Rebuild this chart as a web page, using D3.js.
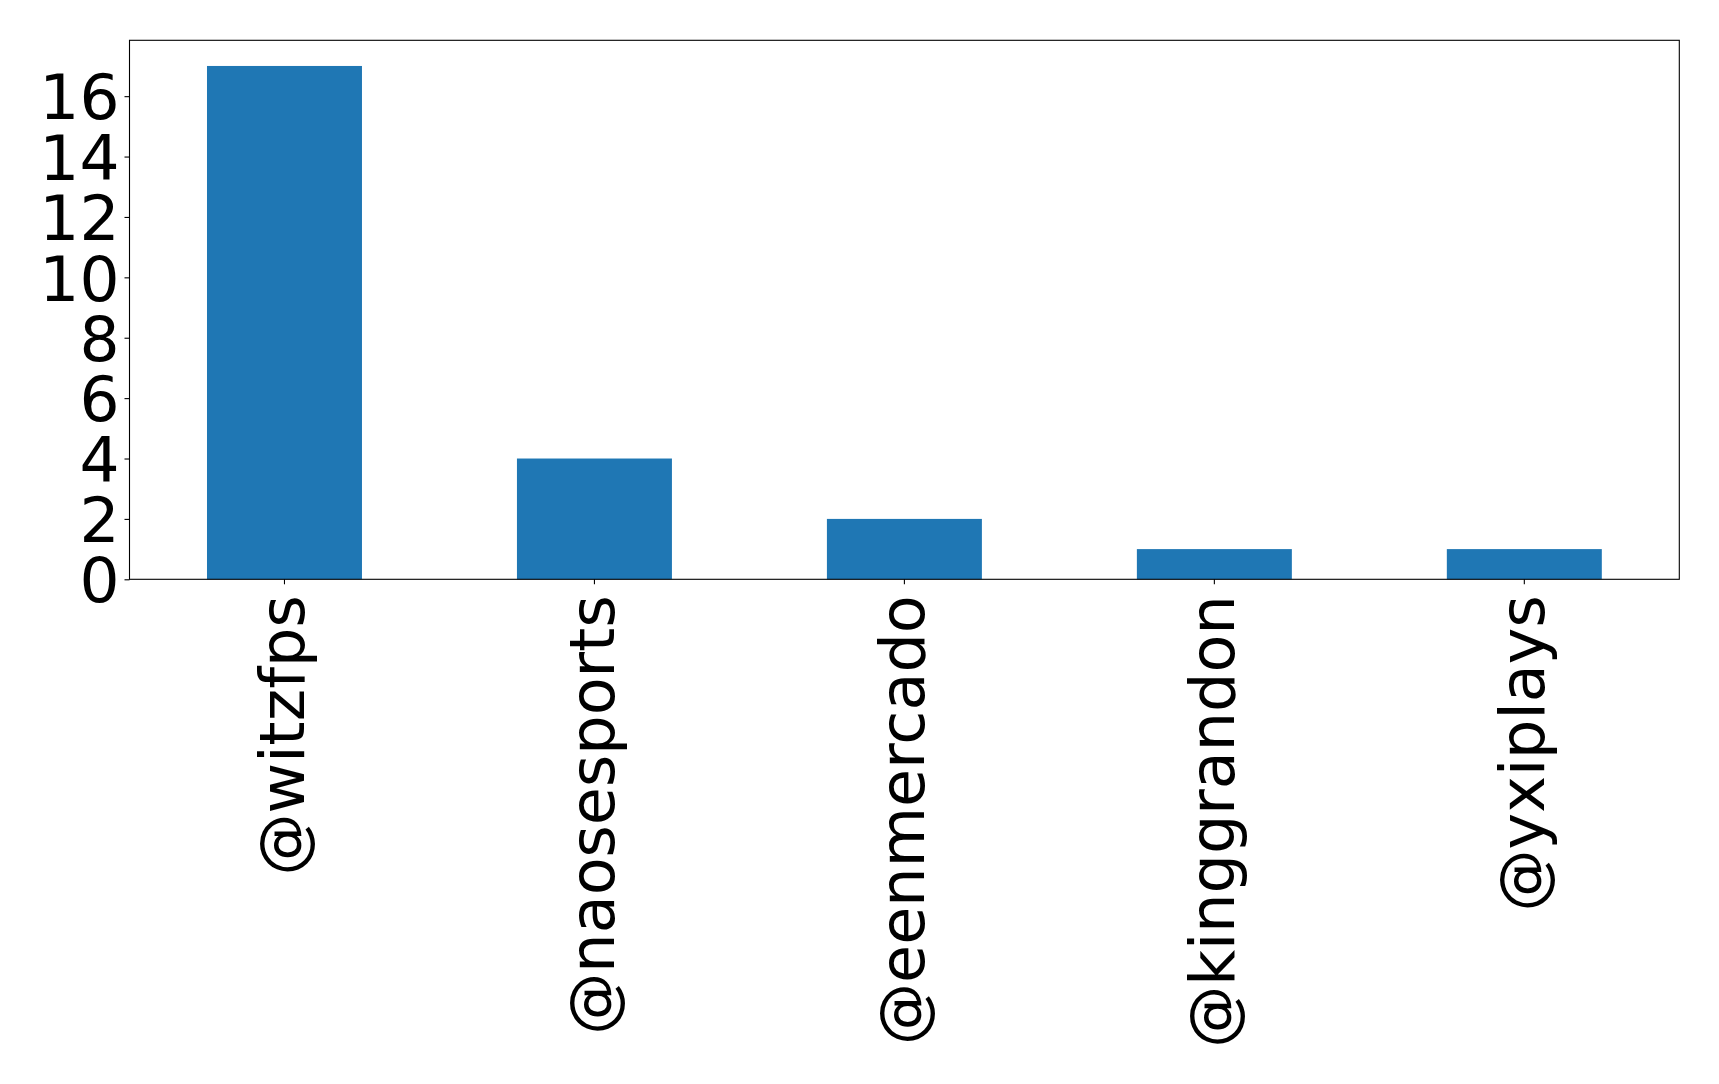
<!DOCTYPE html>
<html>
<head>
<meta charset="utf-8">
<script src="https://cdn.jsdelivr.net/npm/d3@7"></script>
<style>
  html, body { margin: 0; padding: 0; background: #fff; }
  svg { display: block; }
  text { font-family: "DejaVu Sans", sans-serif; fill: #000; }
</style>
</head>
<body>
<svg id="chart" width="1719" height="1084"></svg>
<script>
// Mention counts per account
const accounts = ["@witzfps", "@naosesports", "@eenmercado", "@kinggrandon", "@yxiplays"];
const counts = [17, 4, 2, 1, 1];
const yTicks = [0, 2, 4, 6, 8, 10, 12, 14, 16];

const W = 1719, H = 1084;
const plot = { left: 129.5, right: 1679.3, top: 40.3, bottom: 579.3 };
const yFontPx = 63;
const xFontPx = 62;

const svg = d3.select("#chart");

// Category axis: each account occupies one unit, bars are half a unit wide
const x = d3.scaleBand()
  .domain(accounts)
  .range([plot.left, plot.right])
  .paddingInner(0.5)
  .paddingOuter(0.25);

const y = d3.scaleLinear()
  .domain([0, d3.max(counts) * 1.05])
  .range([plot.bottom, plot.top]);

svg.append("g")
  .selectAll("rect")
  .data(accounts.map((a, i) => ({ a, v: counts[i] })))
  .join("rect")
  .attr("x", d => x(d.a))
  .attr("width", x.bandwidth())
  .attr("y", d => y(d.v))
  .attr("height", d => y(0) - y(d.v))
  .attr("fill", "#1f77b4");

// Y axis
const yAxis = d3.axisLeft(y).tickValues(yTicks).tickSize(5).tickPadding(5).tickFormat(d3.format("d"));
const gy = svg.append("g").attr("transform", `translate(${plot.left},0)`).call(yAxis);
gy.select(".domain").remove();
gy.selectAll(".tick line").attr("stroke", "#000").attr("stroke-width", 1.1);
gy.selectAll(".tick text")
  .attr("font-size", yFontPx)
  .attr("font-family", "DejaVu Sans, sans-serif")
  .attr("dy", "0.36em");

// X axis with vertical labels
const xAxis = d3.axisBottom(x).tickSize(5).tickPadding(0);
const gx = svg.append("g").attr("transform", `translate(0,${plot.bottom})`).call(xAxis);
gx.select(".domain").remove();
gx.selectAll(".tick line").attr("stroke", "#000").attr("stroke-width", 1.1);
gx.selectAll(".tick text")
  .attr("font-size", xFontPx)
  .attr("font-family", "DejaVu Sans, sans-serif")
  .attr("text-anchor", "end")
  .attr("dy", "0.32em")
  .attr("x", 0)
  .attr("y", 0)
  .attr("transform", "translate(0,16) rotate(-90)");

// Frame around the plot area
svg.append("rect")
  .attr("x", plot.left)
  .attr("y", plot.top)
  .attr("width", plot.right - plot.left)
  .attr("height", plot.bottom - plot.top)
  .attr("fill", "none")
  .attr("stroke", "#000")
  .attr("stroke-width", 1.1);
</script>
</body>
</html>
